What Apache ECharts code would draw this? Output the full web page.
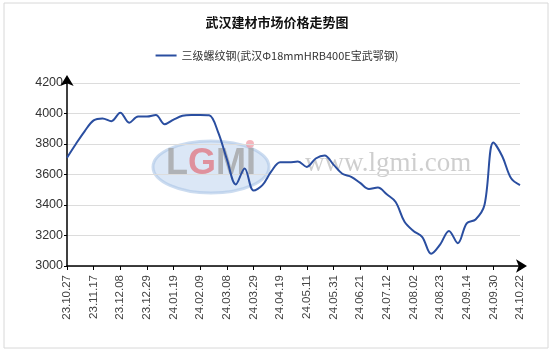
<!DOCTYPE html>
<html>
<head>
<meta charset="utf-8">
<script src="https://cdn.jsdelivr.net/npm/echarts@6/dist/echarts.min.js"></script>
<style>
  html, body { margin: 0; padding: 0; background: #fff; }
  #main { width: 554px; height: 354px; }
</style>
</head>
<body>
<div id="main"></div>
<script>
// weekly dates, every third one is labelled
const dates = [
  '23.10.27', '23.11.03', '23.11.10', '23.11.17', '23.11.24', '23.12.01',
  '23.12.08', '23.12.15', '23.12.22', '23.12.29', '24.01.05', '24.01.12',
  '24.01.19', '24.01.26', '24.02.02', '24.02.09', '24.02.23', '24.03.01',
  '24.03.08', '24.03.15', '24.03.22', '24.03.29', '24.04.03', '24.04.12',
  '24.04.19', '24.04.26', '24.05.06', '24.05.11', '24.05.17', '24.05.24',
  '24.05.31', '24.06.07', '24.06.14', '24.06.21', '24.06.28', '24.07.05',
  '24.07.12', '24.07.19', '24.07.26', '24.08.02', '24.08.09', '24.08.16',
  '24.08.23', '24.08.30', '24.09.06', '24.09.14', '24.09.20', '24.09.27',
  '24.09.30', '24.10.11', '24.10.18', '24.10.22'
];
const prices = [
  3710, 3800, 3885, 3955, 3968, 3950, 4005, 3940, 3980, 3980, 3990, 3930,
  3960, 3985, 3990, 3990, 3988, 3880, 3700, 3535, 3640, 3495, 3530, 3620,
  3680, 3680, 3685, 3650, 3705, 3725, 3665, 3605, 3585, 3545, 3505, 3515,
  3470, 3420, 3290, 3230, 3190, 3080, 3140, 3230, 3150, 3280, 3305, 3400,
  3810, 3720, 3575, 3530
];
const seriesName = '三级螺纹钢(武汉Φ18mmHRB400E宝武鄂钢)';
const yTicks = [3000, 3200, 3400, 3600, 3800, 4000, 4200];

const chart = echarts.init(document.getElementById('main'));
chart.setOption({
  animation: false,
  title: {
    text: '武汉建材市场价格走势图',
    left: 'center',
    top: 11,
    textStyle: {fontFamily: 'Noto Sans CJK SC', fontSize: 13, fontWeight: 'bold', color: '#111'}
  },
  legend: {
    top: 45,
    left: 'center',
    icon: 'rect',
    itemWidth: 21,
    itemHeight: 2,
    itemGap: 5,
    textStyle: {fontFamily: 'Noto Sans CJK SC', fontSize: 11, color: '#333'}
  },
  grid: {left: 67, right: 34, top: 83, bottom: 88},
  graphic: [
    {
      type: 'rect', z: -10,
      shape: {x: 4, y: 3, width: 544, height: 345},
      style: {fill: 'none', stroke: '#d8d8d8', lineWidth: 1}
    },
    {
      type: 'ellipse', z: -5,
      shape: {cx: 211, cy: 167, rx: 58, ry: 26},
      style: {fill: 'rgba(190,212,238,0.55)', stroke: 'rgba(170,196,230,0.6)', lineWidth: 3}
    },
    {
      type: 'text', z: -4, left: 166, top: 146,
      style: {
        text: '{a|L}{b|G}{a|MI}',
        rich: {
          a: {fontFamily: 'Liberation Sans', fontSize: 36, fontWeight: 'bold', fill: 'rgba(160,160,160,0.75)'},
          b: {fontFamily: 'Liberation Sans', fontSize: 36, fontWeight: 'bold', fill: 'rgba(225,110,120,0.7)'}
        }
      }
    },
    {
      type: 'circle', z: -4,
      shape: {cx: 250, cy: 144, r: 4},
      style: {fill: 'rgba(240,150,160,0.7)'}
    },
    {
      type: 'text', z: -4, left: 305, top: 150,
      style: {
        text: 'www.lgmi.com',
        fontFamily: 'Liberation Serif', fontSize: 27,
        fill: 'rgba(190,190,190,0.75)'
      }
    }
  ],
  xAxis: {
    type: 'category',
    data: dates,
    boundaryGap: false,
    axisLine: {
      lineStyle: {color: '#000', width: 1.5},
      symbol: ['none', 'arrow'],
      symbolSize: [10, 11],
      symbolOffset: [0, 7]
    },
    axisTick: {show: true, interval: 2, length: 4, lineStyle: {color: '#000'}},
    axisLabel: {
      interval: 2,
      rotate: 90,
      margin: 9,
      fontFamily: 'Liberation Sans',
      fontSize: 11.5,
      color: '#444'
    },
    splitLine: {show: false}
  },
  yAxis: {
    type: 'value',
    min: yTicks[0],
    max: yTicks[yTicks.length - 1],
    interval: 200,
    axisLine: {
      show: true,
      lineStyle: {color: '#000', width: 1.5},
      symbol: ['none', 'arrow'],
      symbolSize: [10, 11],
      symbolOffset: [0, 8]
    },
    axisTick: {show: true, length: 3, lineStyle: {color: '#000'}},
    axisLabel: {
      margin: 4,
      formatter: v => String(v),
      fontFamily: 'Liberation Sans',
      fontSize: 12.5,
      color: '#333'
    },
    splitLine: {lineStyle: {color: '#dcdcdc', width: 1}}
  },
  series: [{
    name: seriesName,
    type: 'line',
    data: prices,
    smooth: 0.35,
    symbol: 'none',
    lineStyle: {color: '#2a4ea0', width: 2},
    itemStyle: {color: '#2a4ea0'}
  }]
});
</script>
</body>
</html>
